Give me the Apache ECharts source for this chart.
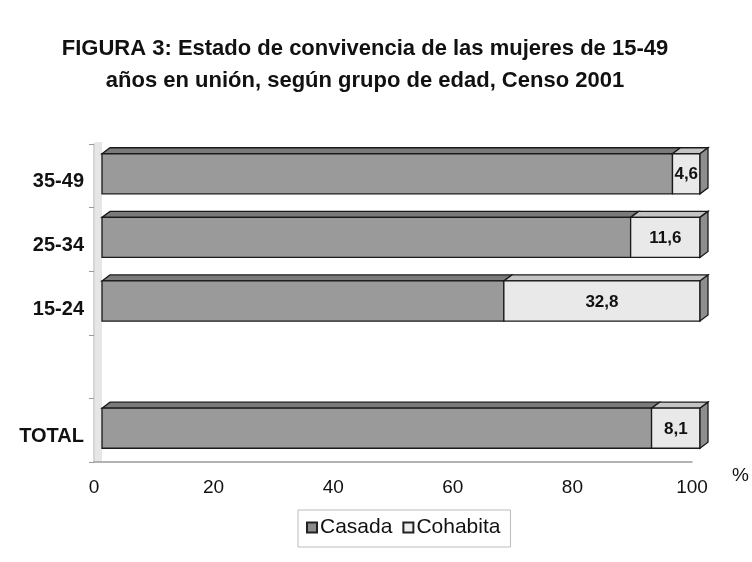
<!DOCTYPE html>
<html>
<head>
<meta charset="utf-8">
<script src="https://cdn.jsdelivr.net/npm/echarts@6/dist/echarts.min.js"></script>
<style>
  html, body { margin: 0; padding: 0; background: #fff; }
  #chart { width: 752px; height: 562px; }
</style>
</head>
<body>
<div id="chart"></div>
<script>
// Age groups, bottom to top (the blank row separates TOTAL from the groups)
const categories = ['TOTAL', '', '15-24', '25-34', '35-49'];
// Share of women in union, by living arrangement (%)
const casada   = [91.9, null, 67.2, 88.4, 95.4];
const cohabita = [8.1,  null, 32.8, 11.6, 4.6];
const xTickMax = 100;
const xTickStep = 20;

const FONT = "'Liberation Sans', Arial, sans-serif";

// 3D-looking bar bodies: front face, top face, and right side on the far end
const SHIFT_X = 8, SHIFT_Y = -2;   // bars sit slightly behind the axis plane
const DX = 8, DY = -6;             // depth of each bar
const EDGE = '#1a1a1a';

function fmt(v) { return v.toFixed(1).replace('.', ','); }

function makeRender(front, top, side, withLabel) {
  return function (params, api) {
    const cat = api.value(0), start = api.value(1), end = api.value(2);
    const p0 = api.coord([start, cat]);
    const p1 = api.coord([end, cat]);
    const h = api.size([0, 1])[1] * 0.63;
    const x0 = p0[0] + SHIFT_X, x1 = p1[0] + SHIFT_X;
    const yc = p0[1] + SHIFT_Y;
    const yt = yc - h / 2, yb = yc + h / 2;
    const children = [
      { type: 'polygon', shape: { points: [[x0, yt], [x0 + DX, yt + DY], [x1 + DX, yt + DY], [x1, yt]] },
        style: { fill: top, stroke: EDGE, lineWidth: 1.3 } },
      { type: 'rect', shape: { x: x0, y: yt, width: x1 - x0, height: h },
        style: { fill: front, stroke: EDGE, lineWidth: 1.3 } }
    ];
    if (end >= xTickMax) {
      children.push({ type: 'polygon', shape: { points: [[x1, yt], [x1 + DX, yt + DY], [x1 + DX, yb + DY], [x1, yb]] },
        style: { fill: side, stroke: EDGE, lineWidth: 1.3 } });
    }
    if (withLabel) {
      children.push({ type: 'text', style: {
        text: fmt(api.value(3)), x: (x0 + x1) / 2, y: yc + 1, align: 'center', verticalAlign: 'middle',
        font: 'bold 17px ' + FONT, fill: '#111' } });
    }
    return { type: 'group', children: children };
  };
}

const casadaData = [], cohabitaData = [];
categories.forEach(function (c, i) {
  if (casada[i] == null) return;
  casadaData.push([i, 0, casada[i], casada[i]]);
  cohabitaData.push([i, casada[i], casada[i] + cohabita[i], cohabita[i]]);
});

const chart = echarts.init(document.getElementById('chart'), null, { renderer: 'canvas' });

chart.setOption({
  backgroundColor: '#fff',
  animation: false,
  title: {
    text: 'FIGURA 3: Estado de convivencia de las mujeres de 15-49\naños en unión, según grupo de edad, Censo 2001',
    left: 360,
    textAlign: 'center',
    top: 28,
    textStyle: { fontFamily: FONT, fontSize: 22, fontWeight: 'bold', color: '#111', lineHeight: 32 }
  },
  grid: { left: 94, right: 60, top: 144, bottom: 100 },
  legend: {
    data: ['Casada', 'Cohabita'],
    top: 510,
    left: 298,
    icon: 'rect',
    itemWidth: 10,
    itemHeight: 10,
    itemGap: 10,
    padding: [7, 10, 9, 8],
    borderColor: '#bbb',
    borderWidth: 1,
    textStyle: { fontFamily: FONT, fontSize: 21, color: '#111', padding: [0, 0, 0, -2] }
  },
  xAxis: {
    type: 'value',
    min: 0,
    max: xTickMax,
    interval: xTickStep,
    axisLine: { show: true, lineStyle: { color: '#999', width: 1.5 } },
    axisTick: { show: false },
    splitLine: { show: false },
    axisLabel: { fontFamily: FONT, fontSize: 19, color: '#111', margin: 16 }
  },
  yAxis: {
    type: 'category',
    data: categories,
    axisLine: { show: true, lineStyle: { color: '#c8c8c8', width: 1.5 } },
    axisTick: { show: true, length: 5, lineStyle: { color: '#999' } },
    axisLabel: {
      margin: 10,
      formatter: function (v) { return v ? '{c|' + v + '}' : ''; },
      rich: {
        c: { fontFamily: FONT, fontSize: 20, fontWeight: 'bold', color: '#111', padding: [12, 0, 0, 0] }
      }
    }
  },
  series: [
    {
      name: 'Casada',
      type: 'custom',
      renderItem: makeRender('#9a9a9a', '#7a7a7a', '#6a6a6a', false),
      itemStyle: { color: '#8c8c8c', borderColor: '#222', borderWidth: 1 },
      encode: { x: [1, 2], y: 0 },
      data: casadaData
    },
    {
      name: 'Cohabita',
      type: 'custom',
      renderItem: makeRender('#e9e9e9', '#c4c4c4', '#8e8e8e', true),
      itemStyle: { color: '#eeeeee', borderColor: '#222', borderWidth: 1 },
      encode: { x: [1, 2], y: 0 },
      data: cohabitaData
    }
  ]
});

// Side wall of the plot and the unit label at the end of the axis
const wx0 = chart.convertToPixel({ xAxisIndex: 0 }, 0);
const wx1 = chart.convertToPixel({ xAxisIndex: 0 }, xTickMax);
chart.setOption({
  graphic: [
    { type: 'rect', z: -1, shape: { x: wx0 + 1, y: 142, width: SHIFT_X - 1, height: 319 },
      style: { fill: '#e6e6e6' } },
    { type: 'text', left: wx1 + 40, top: 466,
      style: { text: '%', font: '19px ' + FONT, fill: '#111' } }
  ]
});
</script>
</body>
</html>
